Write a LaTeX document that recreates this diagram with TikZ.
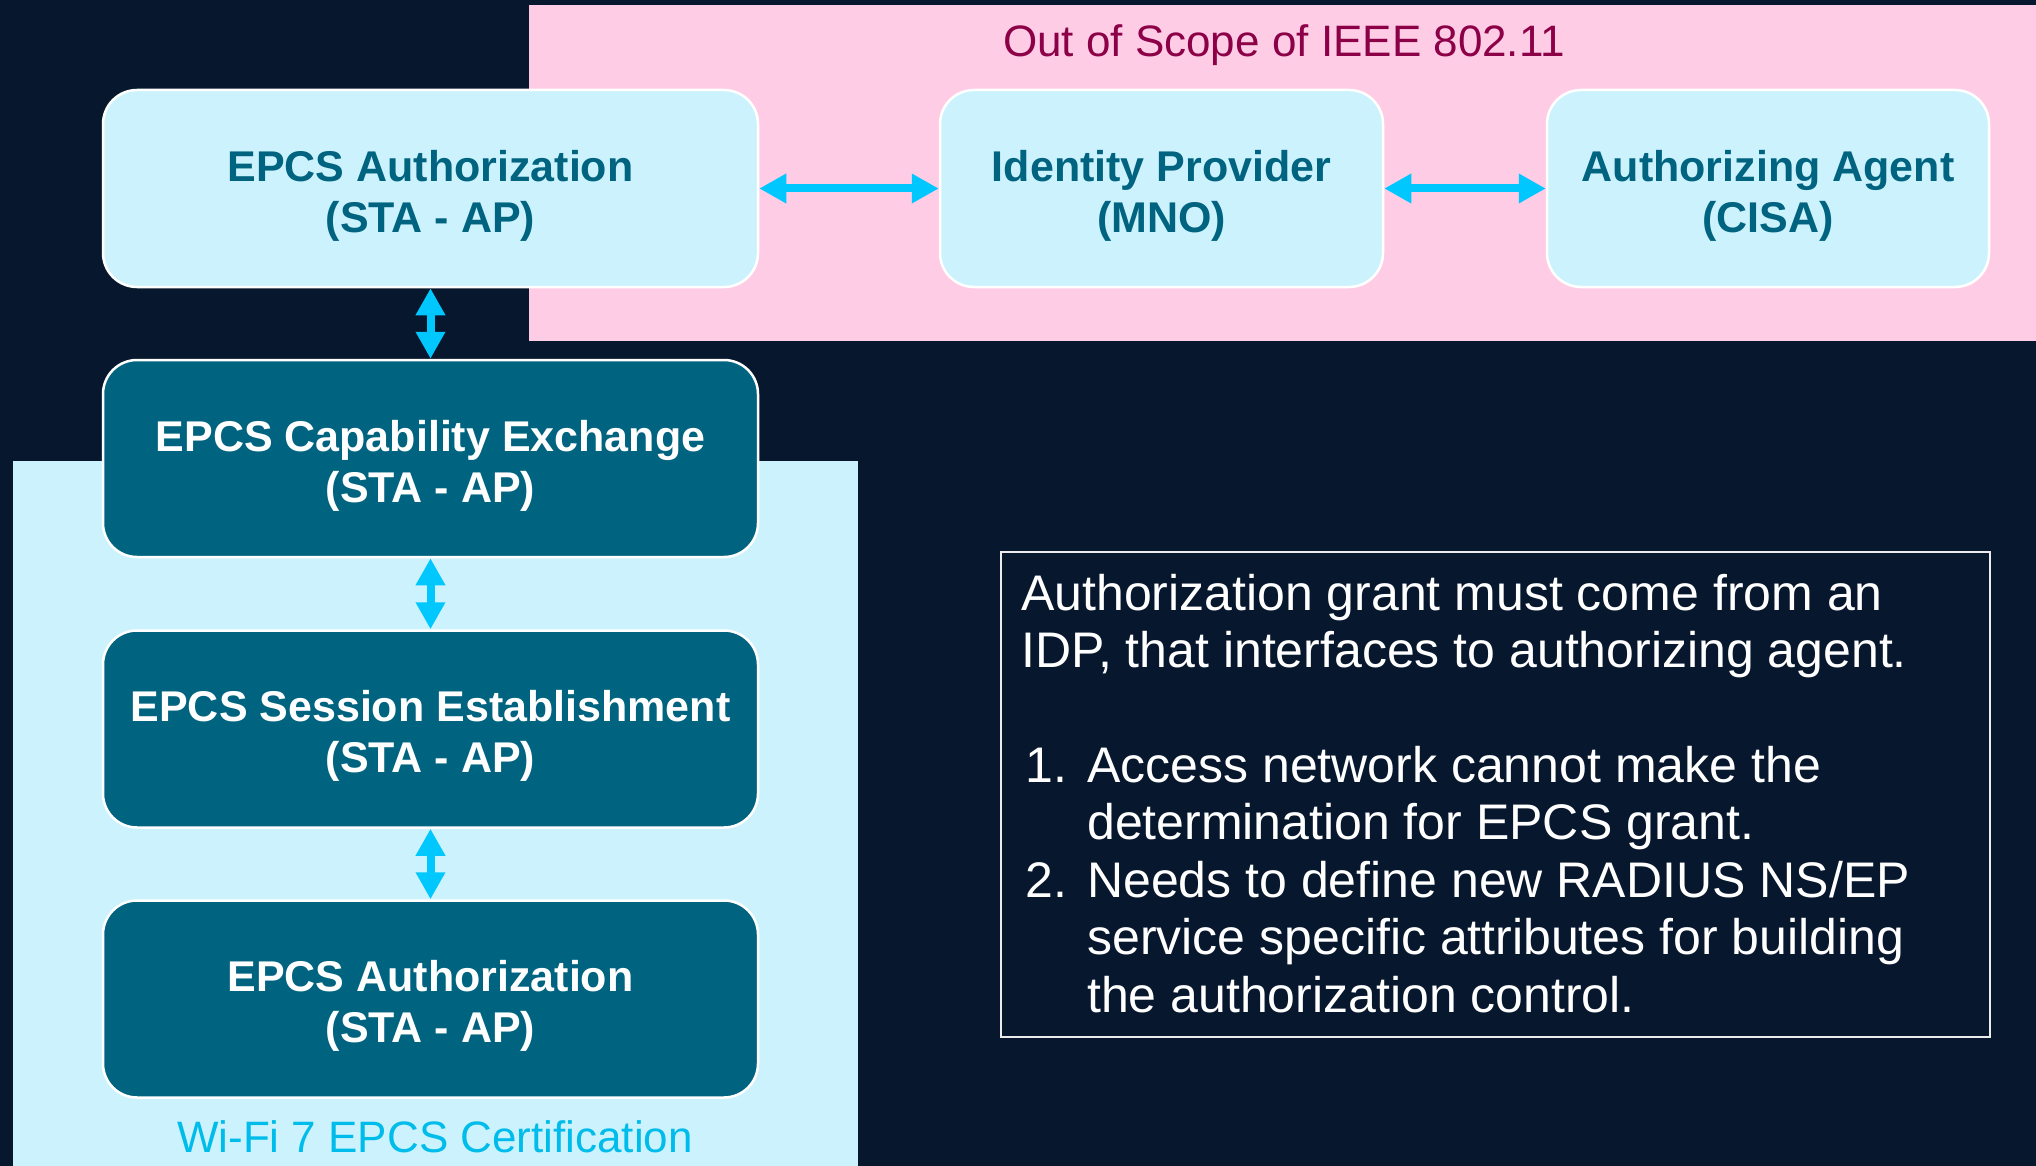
\documentclass[tikz,border=0pt]{standalone}
\usepackage{fontspec}
\setmainfont{Liberation Sans}
\usetikzlibrary{arrows.meta}
\definecolor{bgnavy}{HTML}{07172D}
\definecolor{pinkzone}{HTML}{FFCCE6}
\definecolor{lightcyan}{HTML}{CCF3FD}
\definecolor{tealbox}{HTML}{006480}
\definecolor{arrowcyan}{HTML}{00C8FF}
\definecolor{magtext}{HTML}{8C0048}
\definecolor{wifitext}{HTML}{00BCEB}
\tikzset{
  boxbase/.style={rectangle, rounded corners=34pt, draw=white, line width=2.5pt,
    minimum width=655pt, minimum height=197pt, inner sep=0pt},
  lightbox/.style={boxbase, fill=lightcyan},
  darkbox/.style={boxbase, fill=tealbox},
  boxtext/.style={align=center, inner sep=0pt, font=\fontsize{43}{51}\selectfont\bfseries},
  lighttext/.style={boxtext, text=tealbox},
  darktext/.style={boxtext, text=white},
  link/.style={arrowcyan, line width=8pt,
    {Triangle[width=28pt,length=27pt]}-{Triangle[width=28pt,length=27pt]}},
  note/.style={anchor=base west, inner sep=0pt, text=white, font=\fontsize{50}{57.5}\selectfont}
}
\begin{document}
\begin{tikzpicture}[x=1pt,y=-1pt]
\fill[bgnavy] (0,0) rectangle (2036,1166);
\useasboundingbox (0,0) rectangle (2036,1166);
% zones
\fill[pinkzone] (529,5) rectangle (2036,341);
\fill[lightcyan] (13,461) rectangle (858,1166);
\node[anchor=base, text=magtext, font=\fontsize{44}{50}\selectfont, inner sep=0pt] (scope) at (1284,57) {Out of Scope of IEEE 802.11};
\node[anchor=base, text=wifitext, font=\fontsize{44}{50}\selectfont, inner sep=0pt] (wifi) at (435,1152) {Wi-Fi 7 EPCS Certification};
% boxes
\node[lightbox] (auth1) at (430.5,188.5) {};
\node[lightbox, minimum width=443pt] (idp) at (1161.5,188.5) {};
\node[lightbox, minimum width=442pt] (agent) at (1768,188.5) {};
\node[darkbox] (cap) at (430.5,458.5) {};
\node[darkbox] (sess) at (430.5,729) {};
\node[darkbox] (auth2) at (430.5,999) {};
\node[lighttext] (auth1t) at ([yshift=-7pt]auth1.center) {EPCS Authorization\\(STA - AP)};
\node[lighttext] (idpt) at ([yshift=-7pt]idp.center) {Identity Provider\\(MNO)};
\node[lighttext] (agentt) at ([yshift=-7pt]agent.center) {Authorizing Agent\\(CISA)};
\node[darktext] (capt) at ([yshift=-7pt]cap.center) {EPCS Capability Exchange\\(STA - AP)};
\node[darktext] (sesst) at ([yshift=-7pt]sess.center) {EPCS Session Establishment\\(STA - AP)};
\node[darktext] (auth2t) at ([yshift=-7pt]auth2.center) {EPCS Authorization\\(STA - AP)};
% connectors
\draw[link] (auth1.east) -- (idp.west);
\draw[link] (idp.east) -- (agent.west);
\draw[link] (auth1.south) -- (cap.north);
\draw[link] (cap.south) -- (sess.north);
\draw[link] (sess.south) -- (auth2.north);
% note box
\node[draw=white!85!gray, line width=2pt, minimum width=989pt, minimum height=485pt, inner sep=0pt] (notebox) at (1495.5,794.5) {};
\node[note] (l1) at (1021,610) {Authorization grant must come from an};
\node[note] (l2) at (1021,667.5) {IDP, that interfaces to authorizing agent.};
\node[note] (n1) at (1025,782) {1.};
\node[note] (l3) at (1087,782) {Access network cannot make the};
\node[note] (l4) at (1087,839.5) {determination for EPCS grant.};
\node[note] (n2) at (1025,897) {2.};
\node[note] (l5) at (1087,897) {Needs to define new RADIUS NS/EP};
\node[note] (l6) at (1087,954.5) {service specific attributes for building};
\node[note] (l7) at (1087,1012) {the authorization control.};
\end{tikzpicture}
\end{document}
